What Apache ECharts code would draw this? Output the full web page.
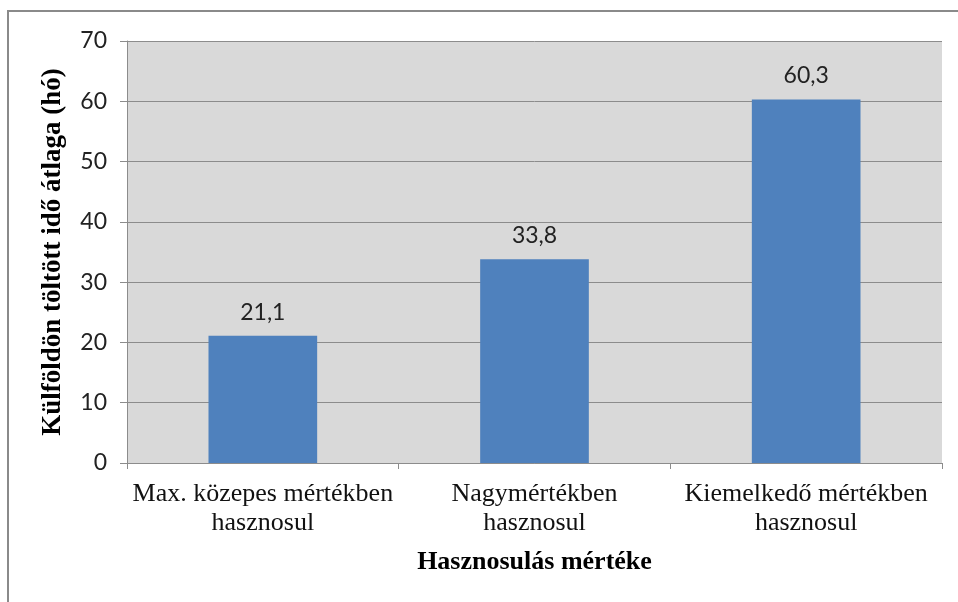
<!DOCTYPE html>
<html>
<head>
<meta charset="utf-8">
<script src="https://cdn.jsdelivr.net/npm/echarts@6/dist/echarts.min.js"></script>
<style>
  html, body { margin: 0; padding: 0; background: #fff; }
  #chart { width: 958px; height: 602px; }
</style>
</head>
<body>
<div id="chart"></div>
<script>
const categories = [ 'Max. közepes mértékben\nhasznosul', 'Nagymértékben\nhasznosul', 'Kiemelkedő mértékben\nhasznosul' ]
const values = [ 21.1, 33.8, 60.3 ]
const yTicks = [ 0, 10, 20, 30, 40, 50, 60, 70 ]

const serif = '"Liberation Serif", "DejaVu Serif", serif'
const sans = 'Lato, "Open Sans", sans-serif'
const lineColor = '#8c8c8c'

const chart = echarts.init(document.getElementById('chart'), null, { renderer: 'canvas' })

const option = {
  animation: false,
  backgroundColor: '#fff',
  grid: {
    left: 127,
    right: 16,
    top: 41,
    bottom: 139,
    show: true,
    backgroundColor: '#d9d9d9',
    borderWidth: 0
  },
  graphic: [
    {
      type: 'polyline',
      shape: { points: [ [ 8, 602 ], [ 8, 11 ], [ 958, 11 ] ] },
      style: { stroke: '#8a8a8a', lineWidth: 2, fill: null }
    }
  ],
  xAxis: {
    type: 'category',
    data: categories,
    name: 'Hasznosulás mértéke',
    nameLocation: 'middle',
    nameGap: 86,
    nameTextStyle: { fontFamily: serif, fontWeight: 'bold', fontSize: 26, color: '#000' },
    axisLine: { lineStyle: { color: lineColor, width: 1 } },
    axisTick: { show: true, length: 6, lineStyle: { color: lineColor } },
    axisLabel: {
      fontFamily: serif,
      fontSize: 26,
      lineHeight: 29,
      color: '#111',
      margin: 17,
      interval: 0
    }
  },
  yAxis: {
    type: 'value',
    min: yTicks[0],
    max: yTicks[yTicks.length - 1],
    interval: 10,
    name: 'Külföldön töltött idő átlaga (hó)',
    nameLocation: 'middle',
    nameGap: 60,
    nameTextStyle: { fontFamily: serif, fontWeight: 'bold', fontSize: 27, color: '#000' },
    axisLine: { show: true, lineStyle: { color: lineColor, width: 1 } },
    axisTick: { show: true, length: 7, lineStyle: { color: lineColor } },
    axisLabel: { fontFamily: sans, fontSize: 23, color: '#222', margin: 20 },
    splitLine: { show: true, lineStyle: { color: lineColor, width: 1 } }
  },
  series: [
    {
      type: 'bar',
      data: values,
      barWidth: '40%',
      itemStyle: { color: '#4f81bd' },
      label: {
        show: true,
        position: 'top',
        distance: 12,
        fontFamily: sans,
        fontSize: 23,
        color: '#222',
        formatter: p => String(p.value).replace('.', ',')
      }
    }
  ]
}

chart.setOption(option)
</script>
</body>
</html>
